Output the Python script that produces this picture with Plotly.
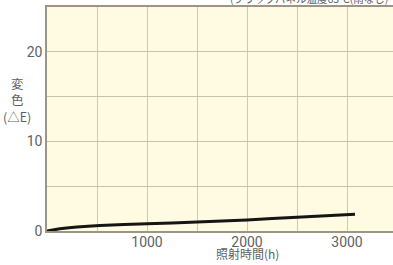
import plotly.graph_objects as go

hours = [0, 150, 300, 530, 1000, 1500, 2000, 2500, 3080]
delta_e = [0, 0.27, 0.45, 0.62, 0.8, 1.0, 1.24, 1.54, 1.88]
x_ticks = [0, 500, 1000, 1500, 2000, 2500, 3000]
x_ticktext = ["", "", "1000", "", "2000", "", "3000"]
y_ticks = [0, 5, 10, 15, 20, 25]
y_ticktext = ["0", "", "10", "", "20", ""]

FONT = "Noto Sans CJK JP"
NUMFONT = "Roboto, Noto Sans"
TICKC = "#5f5f5f"

fig = go.Figure()
fig.add_trace(go.Scatter(x=hours, y=delta_e, mode="lines",
                         line=dict(color="#151515", width=3, shape="spline", smoothing=0.6),
                         hoverinfo="skip", showlegend=False))

fig.update_layout(
    width=393, height=265,
    margin=dict(l=47, r=0, t=7, b=34),
    paper_bgcolor="white",
    plot_bgcolor="#FFFBE3",
    font=dict(family=FONT, color=TICKC, size=12),
    xaxis=dict(range=[0, 3460], tickvals=x_ticks, ticktext=x_ticktext,
               showgrid=True, gridcolor="#CFC9AE", gridwidth=1.3,
               showline=True, linecolor="#9A9585", linewidth=2, mirror=True,
               ticks="", zeroline=False, ticklabelstandoff=-3,
               tickfont=dict(size=14, color=TICKC, family=NUMFONT)),
    yaxis=dict(range=[0, 25], tickvals=y_ticks, ticktext=y_ticktext,
               showgrid=True, gridcolor="#C8C2A6", gridwidth=1.3,
               showline=True, linecolor="#9A9585", linewidth=1.5,
               ticks="", zeroline=False,
               tickfont=dict(size=14, color=TICKC, family=NUMFONT)),
    annotations=[
        dict(text="変<br>色<br>(△E)", x=-0.087, y=0.585, xref="paper", yref="paper",
             showarrow=False, font=dict(size=12.5, color=TICKC, family=FONT),
             align="center", xanchor="center", yanchor="middle"),
        dict(text="照射時間(h)", x=2000, y=-0.1, xref="x", yref="paper",
             showarrow=False, font=dict(size=12, color=TICKC, family=FONT),
             xanchor="center", yanchor="middle"),
        dict(text="(ブラックパネル温度63°C(雨なし)", x=0.991, y=1.036, xref="paper", yref="paper",
             showarrow=False, font=dict(size=10.5, color=TICKC, family=FONT),
             xanchor="right", yanchor="middle"),
    ],
)

fig.write_html("out.html", config={"displayModeBar": False},
               post_script="document.body.style.margin='0';document.body.style.overflow='hidden';")
